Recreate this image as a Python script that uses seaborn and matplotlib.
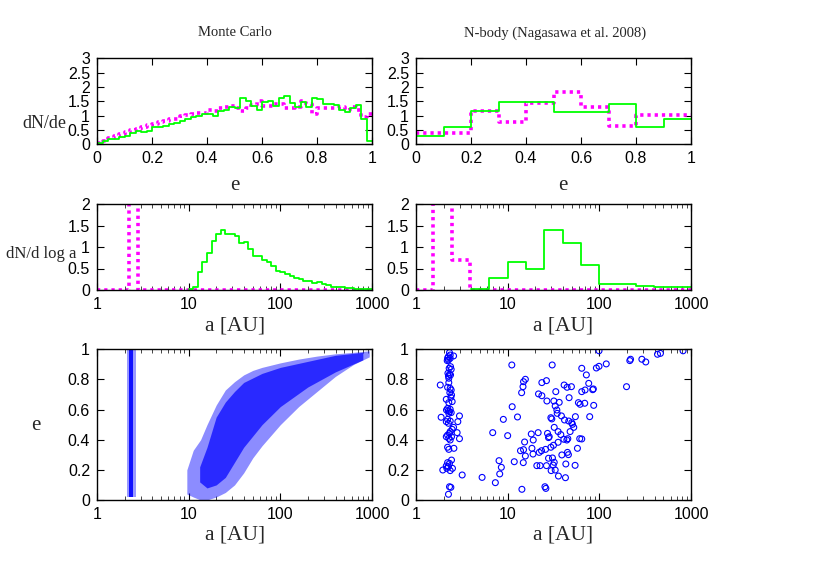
import numpy as np
import matplotlib
matplotlib.use("Agg")
import matplotlib.pyplot as plt
from matplotlib.ticker import FuncFormatter, FixedLocator, LogLocator, NullFormatter
import seaborn as sns

# ---------------- data ----------------
# Monte Carlo eccentricity histogram (bins of 0.02)
mc_e_edges = np.round(np.arange(0.0, 1.0001, 0.02), 3)
mc_e_green = [0.05, 0.10, 0.17, 0.20, 0.25, 0.30, 0.38, 0.45, 0.44, 0.46,
              0.60, 0.60, 0.65, 0.70, 0.75, 0.80, 0.88, 0.95, 1.00, 1.05,
              1.05, 1.00, 1.15, 1.20, 1.30, 1.25, 1.60, 1.50, 1.35, 1.18,
              1.48, 1.50, 1.35, 1.62, 1.70, 1.45, 1.30, 1.48, 1.30, 1.62,
              1.58, 1.42, 1.40, 1.38, 1.20, 1.12, 1.25, 1.38, 0.90, 0.10]
mc_e_mag = [0.05, 0.12, 0.22, 0.28, 0.35, 0.42, 0.50, 0.55, 0.62, 0.68,
            0.72, 0.78, 0.82, 0.90, 0.90, 0.98, 1.02, 1.05, 1.08, 1.10,
            1.20, 1.15, 1.25, 1.30, 1.32, 1.28, 1.15, 1.28, 1.38, 1.50,
            1.35, 1.32, 1.40, 1.40, 1.25, 1.28, 1.30, 1.50, 1.40, 1.05,
            1.28, 1.25, 1.25, 1.28, 1.30, 1.20, 1.30, 1.20, 0.95, 1.05]

# N-body eccentricity histogram (bins of 0.1)
nb_e_edges = [0.0, 0.1, 0.2, 0.3, 0.4, 0.5, 0.6, 0.7, 0.8, 0.9, 1.0]
nb_e_green = [0.28, 0.60, 1.15, 1.49, 1.49, 1.14, 1.14, 1.41, 0.60, 0.88]
nb_e_mag = [0.38, 0.38, 1.16, 0.77, 1.45, 1.84, 1.29, 0.64, 1.02, 1.02]

# Monte Carlo dN/dlog a (log10 a bin edges)
mc_la_green_edges = np.round(np.arange(1.0, 3.0001, 0.05), 3)
mc_la_green = [0.02, 0.07, 0.42, 0.65, 0.85, 1.15, 1.30, 1.40, 1.30, 1.30,
               1.25, 1.10, 1.12, 0.95, 0.80, 0.78, 0.70, 0.65, 0.55, 0.45,
               0.42, 0.38, 0.33, 0.28, 0.25, 0.22, 0.20, 0.16, 0.18, 0.14,
               0.12, 0.08, 0.07, 0.08, 0.05, 0.04, 0.03, 0.03, 0.02, 0.02]
mc_la_mag_edges = [0.0, 0.35, 0.45, 3.0]
mc_la_mag = [0.0, 9.0, 0.0]

# N-body dN/dlog a
nb_la_green_edges = [0.6, 0.8, 1.0, 1.2, 1.4, 1.6, 1.8, 2.0, 2.2, 2.4, 2.6, 2.8, 3.0]
nb_la_green = [0.03, 0.27, 0.65, 0.48, 1.40, 1.10, 0.57, 0.13, 0.13, 0.09, 0.08, 0.06]
nb_la_mag_edges = [0.0, 0.19, 0.39, 0.59, 3.0]
nb_la_mag = [0.0, 9.0, 0.70, 0.0]

# Monte Carlo a-e cloud (read as envelopes)
cloud_la = [0.98, 1.05, 1.13, 1.20, 1.30, 1.40, 1.50, 1.60, 1.70, 1.80, 2.00, 2.20, 2.40, 2.60, 2.80, 2.97]
cloud_lo = [0.04, 0.02, 0.00, 0.00, 0.02, 0.05, 0.10, 0.18, 0.28, 0.36, 0.50, 0.62, 0.72, 0.82, 0.90, 0.95]
cloud_hi = [0.20, 0.33, 0.40, 0.50, 0.63, 0.73, 0.785, 0.83, 0.86, 0.88, 0.91, 0.935, 0.955, 0.97, 0.98, 0.99]
core_la = [1.12, 1.20, 1.30, 1.40, 1.50, 1.60, 1.80, 2.00, 2.30, 2.60, 2.90]
core_lo = [0.12, 0.08, 0.10, 0.15, 0.25, 0.35, 0.50, 0.62, 0.75, 0.85, 0.93]
core_hi = [0.22, 0.35, 0.55, 0.65, 0.72, 0.78, 0.84, 0.88, 0.92, 0.96, 0.98]
band_a_outer = [2.15, 2.65]
band_a_inner = [2.22, 2.48]
band_e = [0.02, 1.0]

# N-body a-e points
nb_a = [2.32, 2.36, 2.25, 2.21, 2.36, 2.26, 2.19, 2.57, 2.38, 2.30,
        2.42, 2.23, 2.32, 2.26, 2.38, 2.28, 1.84, 2.28, 2.21, 2.36,
        2.42, 2.34, 2.44, 2.40, 2.14, 2.48, 2.28, 2.21, 2.15, 2.25,
        2.32, 2.36, 2.28, 2.42, 1.88, 2.21, 2.98, 2.36, 2.86, 2.14,
        2.26, 2.57, 2.48, 2.36, 2.32, 2.81, 2.21, 2.14, 2.44, 2.28,
        2.36, 2.98, 2.21, 2.28, 2.59, 2.44, 2.21, 2.32, 2.14, 2.26,
        2.50, 1.96, 2.17, 2.36, 3.19, 5.26, 2.32, 2.40, 2.26,
        11.1, 30.6, 64.3, 72.2, 76.6, 15.6, 14.9, 14.7, 14.2, 23.6,
        26.5, 41.3, 44.5, 49.6, 64.3, 69.9, 21.7, 23.6, 33.5, 26.8,
        31.9, 36.5, 46.8, 59.1, 61.6, 11.2, 33.0, 34.4, 34.7, 38.6,
        54.8, 78.5, 8.97, 12.8, 29.6, 30.3, 41.7, 46.4, 50.0, 52.6,
        50.9, 6.87, 10.0, 18.1, 21.5, 27.2, 28.4, 27.9, 32.2, 35.5,
        38.0, 48.0, 41.0, 44.2, 45.3, 61.1, 64.3, 15.3, 19.0, 31.6,
        29.6, 35.5, 13.8, 14.9, 18.4, 22.1, 23.4, 25.9, 44.9, 46.0,
        57.7, 15.6, 18.9, 27.9, 30.8, 39.0, 8.05, 11.8, 14.8, 32.2,
        31.4, 8.53, 20.8, 22.6, 26.5, 43.1, 54.4, 29.8, 33.0, 8.19,
        35.8, 42.7, 7.34, 14.3, 25.5, 26.1,
        99.2, 819, 431, 464, 291, 321, 215, 219, 119, 99.2,
        92.8, 198, 86.0, 84.6, 86.8, 69.3]
nb_ecc = [0.978, 0.962, 0.951, 0.940, 0.940, 0.929, 0.925, 0.956, 0.885, 0.874,
          0.867, 0.841, 0.834, 0.823, 0.830, 0.808, 0.763, 0.779, 0.748, 0.741,
          0.730, 0.712, 0.697, 0.681, 0.668, 0.653, 0.646, 0.608, 0.597, 0.593,
          0.586, 0.602, 0.575, 0.580, 0.549, 0.535, 0.558, 0.524, 0.520, 0.520,
          0.509, 0.482, 0.469, 0.454, 0.442, 0.447, 0.431, 0.420, 0.420, 0.409,
          0.398, 0.407, 0.350, 0.336, 0.343, 0.265, 0.248, 0.243, 0.226, 0.221,
          0.210, 0.199, 0.210, 0.195, 0.166, 0.150, 0.088, 0.084, 0.038,
          0.896, 0.896, 0.874, 0.830, 0.774, 0.801, 0.785, 0.752, 0.712, 0.779,
          0.792, 0.763, 0.748, 0.752, 0.719, 0.730, 0.704, 0.692, 0.719, 0.657,
          0.657, 0.648, 0.679, 0.646, 0.635, 0.619, 0.624, 0.597, 0.575, 0.558,
          0.553, 0.553, 0.535, 0.551, 0.546, 0.538, 0.531, 0.524, 0.513, 0.482,
          0.502, 0.447, 0.427, 0.438, 0.447, 0.442, 0.420, 0.414, 0.482, 0.454,
          0.434, 0.454, 0.403, 0.398, 0.407, 0.407, 0.405, 0.385, 0.398, 0.363,
          0.350, 0.383, 0.327, 0.334, 0.343, 0.316, 0.327, 0.336, 0.316, 0.301,
          0.343, 0.292, 0.305, 0.277, 0.279, 0.299, 0.261, 0.254, 0.248, 0.250,
          0.232, 0.217, 0.228, 0.228, 0.228, 0.239, 0.230, 0.195, 0.199, 0.173,
          0.159, 0.148, 0.115, 0.071, 0.088, 0.077,
          0.99, 0.99, 0.967, 0.973, 0.934, 0.916, 0.925, 0.934, 0.903, 0.887,
          0.876, 0.752, 0.737, 0.732, 0.628, 0.642]

titles = ["Monte Carlo", "N-body (Nagasawa et al. 2008)"]

# ---------------- style ----------------
sns.set_style("ticks")
plt.rcParams['font.family'] = ['Liberation Sans', 'DejaVu Sans']
SERIF = ['Liberation Serif', 'DejaVu Serif']
GREEN = '#00ff00'
MAG = '#ff00ff'
BLUE = '#0000ff'
DOT = (0, (0.9, 1.1))

W, H = 830, 581
fig = plt.figure(figsize=(W / 100, H / 100), dpi=100)


def ax_at(x0, y0, x1, y1):
    return fig.add_axes([x0 / W, 1 - y1 / H, (x1 - x0) / W, (y1 - y0) / H])


cols = [(97, 372), (416, 691)]
rows = [(58.3, 144.3), (204, 290), (349.3, 500)]
axes = [[ax_at(c[0], r[0], c[1], r[1]) for c in cols] for r in rows]

gfmt = FuncFormatter(lambda v, p: "%g" % v)


def style(ax, log=False):
    for s in ax.spines.values():
        s.set_linewidth(1.0)
        s.set_color('black')
    ax.tick_params(which='major', direction='in', top=True, right=True,
                   length=5, width=0.8, labelsize=11.5, pad=5, colors='black')
    ax.tick_params(which='minor', direction='in', top=True, right=True,
                   length=2.8, width=0.6)
    ax.yaxis.set_major_formatter(gfmt)
    if log:
        ax.set_xscale('log')
        ax.set_xlim(1, 1000)
        ax.xaxis.set_major_locator(FixedLocator([1, 10, 100, 1000]))
        ax.xaxis.set_major_formatter(gfmt)
        ax.xaxis.set_minor_locator(LogLocator(base=10, subs=np.arange(2, 10)))
        ax.xaxis.set_minor_formatter(NullFormatter())
    else:
        ax.xaxis.set_major_formatter(gfmt)
    ax.set_xlabel("")
    ax.set_ylabel("")


def steps(ax, edges, vals, color, ls, lw, logx=False):
    x = np.asarray(edges, dtype=float)
    if logx:
        x = 10 ** x
    y = list(vals) + [vals[-1]]
    sns.lineplot(x=x, y=y, drawstyle='steps-post', color=color, linestyle=ls,
                 linewidth=lw, ax=ax, sort=False, estimator=None)


# Row 1: e histograms
for j, (g, m, ed) in enumerate([(mc_e_green, mc_e_mag, mc_e_edges),
                                (nb_e_green, nb_e_mag, nb_e_edges)]):
    ax = axes[0][j]
    steps(ax, ed, m, MAG, DOT, 2.6)
    steps(ax, ed, g, GREEN, '-', 1.3)
    style(ax)
    ax.set_xlim(0, 1)
    ax.set_ylim(0, 3)
    ax.set_xticks([0, 0.2, 0.4, 0.6, 0.8, 1.0])
    ax.set_yticks([0, 0.5, 1, 1.5, 2, 2.5, 3])

# Row 2: log a histograms
for j, (ge, g, me, m) in enumerate([(mc_la_green_edges, mc_la_green, mc_la_mag_edges, mc_la_mag),
                                    (nb_la_green_edges, nb_la_green, nb_la_mag_edges, nb_la_mag)]):
    ax = axes[1][j]
    steps(ax, me, m, MAG, DOT, 2.6, logx=True)
    steps(ax, ge, g, GREEN, '-', 1.3, logx=True)
    style(ax, log=True)
    ax.set_ylim(0, 2)
    ax.set_yticks([0, 0.5, 1, 1.5, 2])

# Row 3 left: Monte Carlo cloud
ax = axes[2][0]
ax.set_xscale('log')
ax.fill_betweenx(band_e, band_a_outer[0], band_a_outer[1], color=BLUE, alpha=0.4, lw=0)
ax.fill_betweenx(band_e, band_a_inner[0], band_a_inner[1], color=BLUE, alpha=0.9, lw=0)
ax.fill_between(10 ** np.asarray(cloud_la), cloud_lo, cloud_hi, color=BLUE, alpha=0.45, lw=0)
ax.fill_between(10 ** np.asarray(core_la), core_lo, core_hi, color=BLUE, alpha=0.7, lw=0)
style(ax, log=True)
ax.set_ylim(0, 1)
ax.set_yticks([0, 0.2, 0.4, 0.6, 0.8, 1])

# Row 3 right: N-body scatter
ax = axes[2][1]
sns.scatterplot(x=nb_a, y=nb_ecc, ax=ax, marker='o', s=18,
                facecolor='none', edgecolor=BLUE, linewidth=0.8)
style(ax, log=True)
ax.set_ylim(0, 1)
ax.set_yticks([0, 0.2, 0.4, 0.6, 0.8, 1])

# ---------------- texts ----------------
def ftext(x, y, s, size, **kw):
    fig.text(x / W, 1 - y / H, s, ha='center', va='center', family=SERIF,
             fontsize=size, **kw)


ftext(235, 33, titles[0], 10.5)
ftext(555, 33, titles[1], 10.5)
ftext(44, 123, "dN/de", 13)
ftext(41, 254, "dN/d log a", 12)
ftext(36, 425, "e", 15)
for cx in (235, 563):
    ftext(cx, 186, "e", 15)
    ftext(cx, 326, "a [AU]", 15.5)
    ftext(cx, 535, "a [AU]", 15.5)

fig.savefig("out.png", dpi=100)
